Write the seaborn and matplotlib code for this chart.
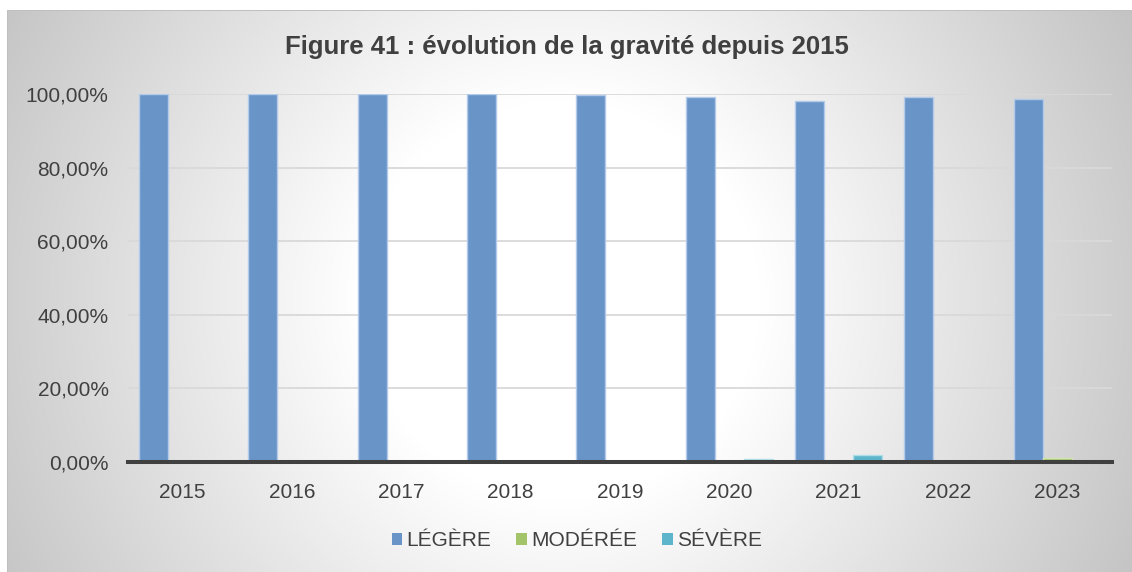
import numpy as np
import pandas as pd
import matplotlib
matplotlib.use("Agg")
import matplotlib.pyplot as plt
import seaborn as sns
from matplotlib.ticker import FuncFormatter, MultipleLocator
from matplotlib.patches import Patch

# Share of cases by severity level, per year (fractions of 1)
years = ["2015", "2016", "2017", "2018", "2019", "2020", "2021", "2022", "2023"]
legere = [1.000, 1.000, 1.000, 1.000, 0.998, 0.992, 0.982, 0.992, 0.987]
moderee = [0.000, 0.000, 0.000, 0.000, 0.000, 0.000, 0.000, 0.000, 0.012]
severe = [0.000, 0.000, 0.000, 0.000, 0.000, 0.008, 0.019, 0.000, 0.000]
series = ["LÉGÈRE", "MODÉRÉE", "SÉVÈRE"]

fill_colors = ["#6894C8", "#A4C46A", "#5DB5CB"]
edge_colors = ["#B3CBE8", "#D2E3B4", "#B0DDE8"]
text_color = "#404040"

df = pd.DataFrame({
    "Année": years * 3,
    "Part": legere + moderee + severe,
    "Gravité": [s for s in series for _ in years],
})

sns.set_theme(style="white")
plt.rcParams["font.family"] = ["Liberation Sans", "DejaVu Sans"]

W, H = 1132, 572
fig = plt.figure(figsize=(W / 100, H / 100), dpi=100)

# Chart-area background: white centre fading to grey towards the edges
bg = fig.add_axes([0, 0, 1, 1])
yy, xx = np.mgrid[0:H, 0:W]
dist = np.hypot(xx - 560.0, yy - 300.0)
shade = 255.0 - np.clip((dist - 200.0) * 0.135, 0, 70)
img = np.repeat((shade / 255.0)[:, :, None], 3, axis=2)
img[:10, :, :] = 1.0
img[:, :7, :] = 1.0
img[10, 7:, :] = 0.75
img[10:, 7, :] = 0.75
bg.imshow(img, extent=(0, W, H, 0), aspect="auto", interpolation="nearest")
bg.set_xlim(0, W)
bg.set_ylim(H, 0)
bg.axis("off")

ax = fig.add_axes([128 / W, 1 - 462 / H, (1112 - 128) / W, (462 - 94) / H])
ax.patch.set_alpha(0)

sns.barplot(data=df, x="Année", y="Part", hue="Gravité", hue_order=series,
            palette=fill_colors, saturation=1, width=0.8, errorbar=None,
            legend=False, ax=ax)

for cont, ec in zip(ax.containers, edge_colors):
    for bar in cont:
        bar.set_edgecolor(ec)
        bar.set_linewidth(1.0)

ax.set_ylim(0, 1.0)
ax.yaxis.set_major_locator(MultipleLocator(0.2))
ax.yaxis.set_major_formatter(FuncFormatter(lambda v, _: f"{v * 100:.2f}%".replace(".", ",")))
ax.yaxis.grid(True, color="#D9D9D9", linewidth=1.3)
ax.set_axisbelow(True)
ax.set_xlabel("")
ax.set_ylabel("")

for side in ["top", "right", "left"]:
    ax.spines[side].set_visible(False)
ax.spines["bottom"].set_color(text_color)
ax.spines["bottom"].set_linewidth(2.9)
ax.spines["bottom"].set_zorder(3)

ax.tick_params(axis="y", length=0, pad=14, labelsize=15, labelcolor=text_color)
ax.tick_params(axis="x", length=0, pad=15, labelsize=15, labelcolor=text_color)

fig.text(567 / W, 1 - 47 / H, "Figure 41 : évolution de la gravité depuis 2015",
         ha="center", va="center", fontsize=18.5, fontweight="bold", color=text_color)

handles = [Patch(facecolor=c, edgecolor="none") for c in fill_colors]
fig.legend(handles, series, loc="center", bbox_to_anchor=(577 / W, 1 - 541 / H),
           ncol=3, frameon=False, fontsize=15, labelcolor=text_color,
           handlelength=0.52, handleheight=0.5, handletextpad=0.2,
           columnspacing=1.2)

fig.savefig("out.png", dpi=100)
